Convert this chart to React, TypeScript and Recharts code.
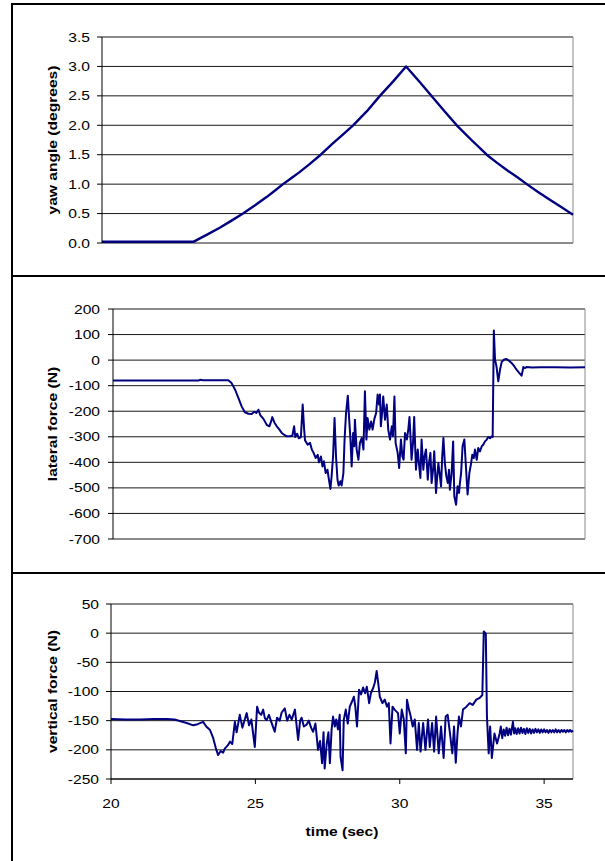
import { CartesianGrid, Label, Line, LineChart, ReferenceLine, XAxis, YAxis } from 'recharts';

// ---- data (time in sec, value) ----

const TIME_TICKS = [20, 25, 30, 35];
const YAW_TICKS = [0, 0.5, 1, 1.5, 2, 2.5, 3, 3.5];
const LATERAL_TICKS = [-700, -600, -500, -400, -300, -200, -100, 0, 100, 200];
const VERTICAL_TICKS = [-250, -200, -150, -100, -50, 0, 50];

const yawAngle: [number, number][] = [
  [20, 0.02], [21, 0.02], [22, 0.02], [23.1, 0.02], [23.6, 0.15], [24.0, 0.26], [24.4, 0.38],
  [24.79, 0.5], [25.2, 0.64], [25.59, 0.78], [25.9, 0.9], [26.15, 1.0], [26.45, 1.11], [26.7, 1.2],
  [27.05, 1.34], [27.43, 1.5], [27.86, 1.7], [28.2, 1.85], [28.53, 2.0], [29.0, 2.24], [29.44, 2.5],
  [29.9, 2.75], [30.33, 3.0], [30.8, 2.73], [31.26, 2.46], [31.65, 2.23], [32.05, 2.0], [32.55, 1.75],
  [33.07, 1.5], [33.4, 1.37], [33.75, 1.24], [34.1, 1.12], [34.43, 1.0], [34.8, 0.87], [35.2, 0.74],
  [35.6, 0.61], [36.0, 0.48],
];

const lateralForce: [number, number][] = [
  [20, -80], [21, -80], [22, -80], [22.9, -80], [22.95, -77], [23.05, -79], [23.46, -79], [23.91, -79],
  [24.02, -90], [24.14, -116], [24.25, -148], [24.36, -181], [24.47, -204], [24.59, -210], [24.7, -211],
  [24.79, -202], [24.86, -207], [24.93, -194], [24.99, -215], [25.1, -230], [25.21, -253], [25.3, -259],
  [25.36, -240], [25.4, -223], [25.47, -244], [25.55, -259], [25.63, -270], [25.72, -285], [25.81, -293],
  [25.89, -298], [26.0, -298], [26.08, -296], [26.14, -259], [26.18, -301], [26.24, -288], [26.3, -306],
  [26.37, -301], [26.43, -174], [26.48, -272], [26.51, -314], [26.6, -331], [26.68, -324], [26.74, -350],
  [26.8, -363], [26.87, -383], [26.94, -371], [26.98, -400], [27.05, -377], [27.1, -416], [27.15, -396],
  [27.21, -442], [27.27, -429], [27.31, -461], [27.37, -504], [27.41, -455], [27.46, -377], [27.51, -227],
  [27.56, -377], [27.61, -468], [27.65, -491], [27.71, -474], [27.75, -491], [27.81, -442], [27.85, -311],
  [27.9, -207], [27.96, -139], [28.0, -220], [28.05, -311], [28.09, -416], [28.14, -285], [28.18, -337],
  [28.2, -233], [28.26, -350], [28.32, -390], [28.37, -324], [28.43, -305], [28.49, -350], [28.54, -122],
  [28.59, -311], [28.63, -227], [28.69, -272], [28.75, -240], [28.8, -272], [28.86, -230], [28.92, -207],
  [28.97, -135], [29.02, -174], [29.05, -135], [29.08, -259], [29.13, -194], [29.16, -142], [29.22, -233],
  [29.28, -174], [29.33, -272], [29.39, -311], [29.45, -259], [29.49, -298], [29.54, -142], [29.58, -324],
  [29.65, -363], [29.7, -422], [29.76, -311], [29.81, -377], [29.85, -390], [29.9, -285], [29.96, -311],
  [30.01, -272], [30.05, -223], [30.09, -311], [30.12, -390], [30.17, -324], [30.21, -223], [30.27, -429],
  [30.33, -350], [30.37, -403], [30.42, -461], [30.46, -311], [30.52, -429], [30.56, -377], [30.61, -350],
  [30.67, -468], [30.71, -403], [30.76, -363], [30.8, -481], [30.85, -429], [30.89, -357], [30.95, -520],
  [30.99, -455], [31.03, -403], [31.07, -442], [31.12, -494], [31.16, -377], [31.2, -305], [31.25, -403],
  [31.3, -455], [31.35, -481], [31.39, -429], [31.42, -507], [31.48, -442], [31.53, -318], [31.57, -533],
  [31.63, -566], [31.68, -494], [31.73, -520], [31.76, -481], [31.8, -442], [31.85, -337], [31.91, -311],
  [31.97, -429], [32.02, -526], [32.08, -442], [32.14, -403], [32.18, -370], [32.23, -383], [32.27, -350],
  [32.33, -390], [32.38, -344], [32.44, -357], [32.5, -337], [32.55, -331], [32.61, -318], [32.67, -311],
  [32.72, -301], [32.78, -306], [32.84, -298], [32.87, -301], [32.91, 116], [32.95, 2], [33.0, -25],
  [33.06, -83], [33.12, -37], [33.18, -6], [33.26, 2], [33.34, 4], [33.43, -3], [33.51, -11], [33.6, -24],
  [33.68, -37], [33.77, -50], [33.85, -61], [33.88, -45], [33.91, -27], [33.96, -31], [34.02, -27],
  [34.2, -29], [34.5, -28], [35.0, -28], [35.5, -29], [36.0, -28],
];

const verticalForce: [number, number][] = [
  [20, -147], [20.5, -148], [21, -148], [21.5, -147], [21.93, -147], [22.2, -148], [22.62, -154],
  [22.85, -158], [23.0, -156], [23.19, -152], [23.3, -160], [23.43, -166], [23.54, -180], [23.63, -197],
  [23.71, -209], [23.8, -202], [23.88, -205], [23.94, -198], [24.05, -192], [24.12, -186], [24.2, -190],
  [24.29, -152], [24.35, -170], [24.46, -140], [24.55, -162], [24.62, -150], [24.7, -137], [24.78, -158],
  [24.86, -148], [24.98, -195], [25.06, -126], [25.12, -136], [25.2, -140], [25.27, -131], [25.33, -146],
  [25.39, -149], [25.47, -140], [25.55, -152], [25.67, -169], [25.75, -145], [25.84, -150], [25.91, -136],
  [26.02, -129], [26.1, -150], [26.18, -140], [26.26, -148], [26.37, -131], [26.48, -183], [26.55, -150],
  [26.6, -145], [26.68, -160], [26.77, -157], [26.85, -150], [26.93, -162], [27.0, -169], [27.08, -155],
  [27.17, -200], [27.24, -185], [27.31, -223], [27.36, -170], [27.4, -232], [27.47, -190], [27.53, -170],
  [27.58, -223], [27.64, -165], [27.69, -143], [27.75, -160], [27.8, -148], [27.86, -165], [27.92, -140],
  [27.95, -212], [28.02, -235], [28.06, -149], [28.13, -131], [28.2, -155], [28.27, -126], [28.34, -118],
  [28.41, -109], [28.46, -125], [28.52, -160], [28.59, -97], [28.66, -105], [28.73, -93], [28.8, -103],
  [28.86, -92], [28.94, -120], [29.0, -103], [29.08, -94], [29.14, -84], [29.2, -65], [29.25, -84],
  [29.31, -109], [29.4, -120], [29.48, -114], [29.56, -126], [29.62, -120], [29.68, -189], [29.75, -126],
  [29.82, -131], [29.94, -137], [30.0, -172], [30.07, -131], [30.14, -148], [30.21, -206], [30.25, -114],
  [30.32, -131], [30.38, -143], [30.45, -160], [30.52, -148], [30.6, -200], [30.66, -154], [30.72, -203],
  [30.81, -154], [30.89, -200], [30.98, -148], [31.04, -195], [31.12, -154], [31.19, -203], [31.26, -143],
  [31.35, -206], [31.43, -160], [31.52, -214], [31.59, -143], [31.66, -140], [31.74, -172], [31.82, -206],
  [31.88, -160], [31.94, -222], [32.0, -172], [32.05, -143], [32.12, -160], [32.19, -131], [32.31, -126],
  [32.42, -120], [32.53, -123], [32.65, -114], [32.77, -111], [32.86, -106], [32.91, 3], [32.98, -1],
  [33.02, -143], [33.08, -206], [33.13, -160], [33.19, -214], [33.28, -172], [33.37, -189], [33.46, -172],
  [33.5, -160], [33.55, -180], [33.6, -165], [33.65, -176], [33.7, -162], [33.75, -175], [33.8, -164],
  [33.85, -174], [33.92, -152], [33.96, -172], [34.0, -163], [34.05, -173], [34.1, -163], [34.15, -172],
  [34.2, -162], [34.25, -171], [34.3, -164], [34.35, -173], [34.4, -163], [34.45, -171], [34.5, -164],
  [34.55, -172], [34.6, -165], [34.65, -171], [34.7, -164], [34.75, -170], [34.8, -165], [34.85, -171],
  [34.9, -165], [34.95, -170], [35.0, -165], [35.05, -170], [35.1, -166], [35.15, -171], [35.2, -166],
  [35.25, -170], [35.3, -166], [35.35, -170], [35.4, -165], [35.45, -170], [35.5, -166], [35.55, -170],
  [35.6, -166], [35.65, -169], [35.7, -166], [35.75, -170], [35.8, -166], [35.85, -169], [35.9, -166],
  [35.95, -169], [36.0, -167],
];

// ---- styling ----

const FONT = '"Liberation Sans", Arial, Helvetica, sans-serif';
const NAVY = '#000080';
const FRAME = '#8a8a8a';
const STRETCH = 'scale(1.2,1)';

const toRows = (pairs: [number, number][]) => pairs.map(([t, v]) => ({ t, v }));

const yTick = (digits: number) => (props: any) => {
  const { x, y, payload } = props;
  return (
    <text
      transform={`translate(${x},${y}) ${STRETCH}`}
      textAnchor="end"
      dominantBaseline="central"
      fontSize={13}
      fontFamily={FONT}
      fill="#000"
    >
      {Number(payload.value).toFixed(digits)}
    </text>
  );
};

const xTick = (props: any) => {
  const { x, y, payload } = props;
  return (
    <text
      transform={`translate(${x},${y}) ${STRETCH}`}
      textAnchor="middle"
      dominantBaseline="central"
      fontSize={13}
      fontFamily={FONT}
      fill="#000"
    >
      {payload.value}
    </text>
  );
};

const yTitle = (text: string) => (props: any) => {
  const vb = props.viewBox || { y: 0, height: 0 };
  const cy = vb.y + vb.height / 2;
  return (
    <text
      transform={`translate(52,${cy}) rotate(-90) ${STRETCH}`}
      textAnchor="middle"
      dominantBaseline="central"
      fontSize={13}
      fontWeight="bold"
      fontFamily={FONT}
      fill="#000"
    >
      {text}
    </text>
  );
};

const xTitle = (text: string) => (props: any) => {
  const vb = props.viewBox || { x: 0, y: 0, width: 0 };
  return (
    <text
      transform={`translate(${vb.x + vb.width / 2},${vb.y + 52}) ${STRETCH}`}
      textAnchor="middle"
      dominantBaseline="central"
      fontSize={13}
      fontWeight="bold"
      fontFamily={FONT}
      fill="#000"
    >
      {text}
    </text>
  );
};

interface PanelProps {
  rows: { t: number; v: number }[];
  top: number;
  height: number;
  margin: { top: number; right: number; bottom: number; left: number };
  ticks: number[];
  digits: number;
  title: string;
  tickMargin: number;
  strokeWidth: number;
  showTime?: boolean;
}

function Panel({ rows, top, height, margin, ticks, digits, title, tickMargin, strokeWidth, showTime }: PanelProps) {
  const yMin = Math.min(...ticks);
  const yMax = Math.max(...ticks);
  return (
    <div style={{ position: 'absolute', left: 0, top }}>
      <LineChart width={605} height={height} data={rows} margin={margin}>
        <CartesianGrid vertical={false} stroke="#000" strokeOpacity={0.9} />
        <XAxis
          dataKey="t"
          type="number"
          domain={[20, 36]}
          ticks={TIME_TICKS}
          hide={!showTime}
          height={30}
          tickSize={5}
          tickMargin={19}
          tick={xTick}
          axisLine={{ stroke: '#000' }}
          tickLine={{ stroke: '#000' }}
        >
          {showTime && <Label content={xTitle('time (sec)')} />}
        </XAxis>
        <YAxis
          type="number"
          domain={[yMin, yMax]}
          ticks={ticks}
          interval={0}
          width={60}
          tickSize={5}
          tickMargin={tickMargin}
          tick={yTick(digits)}
          axisLine={{ stroke: '#000' }}
          tickLine={{ stroke: '#000' }}
        >
          <Label content={yTitle(title)} />
        </YAxis>
        <ReferenceLine y={yMax} stroke={FRAME} />
        <ReferenceLine x={36} stroke={FRAME} />
        {!showTime && <ReferenceLine y={yMin} stroke={FRAME} />}
        <Line
          type="linear"
          dataKey="v"
          stroke={NAVY}
          strokeWidth={strokeWidth}
          strokeLinejoin="round"
          dot={false}
          isAnimationActive={false}
        />
      </LineChart>
    </div>
  );
}

export default function App() {
  return (
    <div style={{ position: 'relative', width: 605, height: 861, background: '#fff', overflow: 'hidden' }}>
      <style>{'body{margin:0}'}</style>
      {/* panel frames */}
      <div style={{ position: 'absolute', left: 11, top: 3, width: 2, height: 858, background: '#000' }} />
      <div style={{ position: 'absolute', left: 11, top: 3, width: 594, height: 2, background: '#000' }} />
      <div style={{ position: 'absolute', left: 11, top: 275, width: 594, height: 2, background: '#000' }} />
      <div style={{ position: 'absolute', left: 11, top: 572, width: 594, height: 2, background: '#000' }} />

      <Panel
        rows={toRows(yawAngle)}
        top={0}
        height={275}
        margin={{ top: 37, right: 32, bottom: 32, left: 42 }}
        ticks={YAW_TICKS}
        digits={1}
        title="yaw angle (degrees)"
        tickMargin={7}
        strokeWidth={2.4}
      />
      <Panel
        rows={toRows(lateralForce)}
        top={277}
        height={295}
        margin={{ top: 32, right: 20, bottom: 33, left: 53 }}
        ticks={LATERAL_TICKS}
        digits={0}
        title="lateral force (N)"
        tickMargin={8}
        strokeWidth={2}
      />
      <Panel
        rows={toRows(verticalForce)}
        top={574}
        height={287}
        margin={{ top: 30, right: 32, bottom: 52, left: 51 }}
        ticks={VERTICAL_TICKS}
        digits={0}
        title="vertical force (N)"
        tickMargin={7}
        strokeWidth={2}
        showTime
      />
    </div>
  );
}
